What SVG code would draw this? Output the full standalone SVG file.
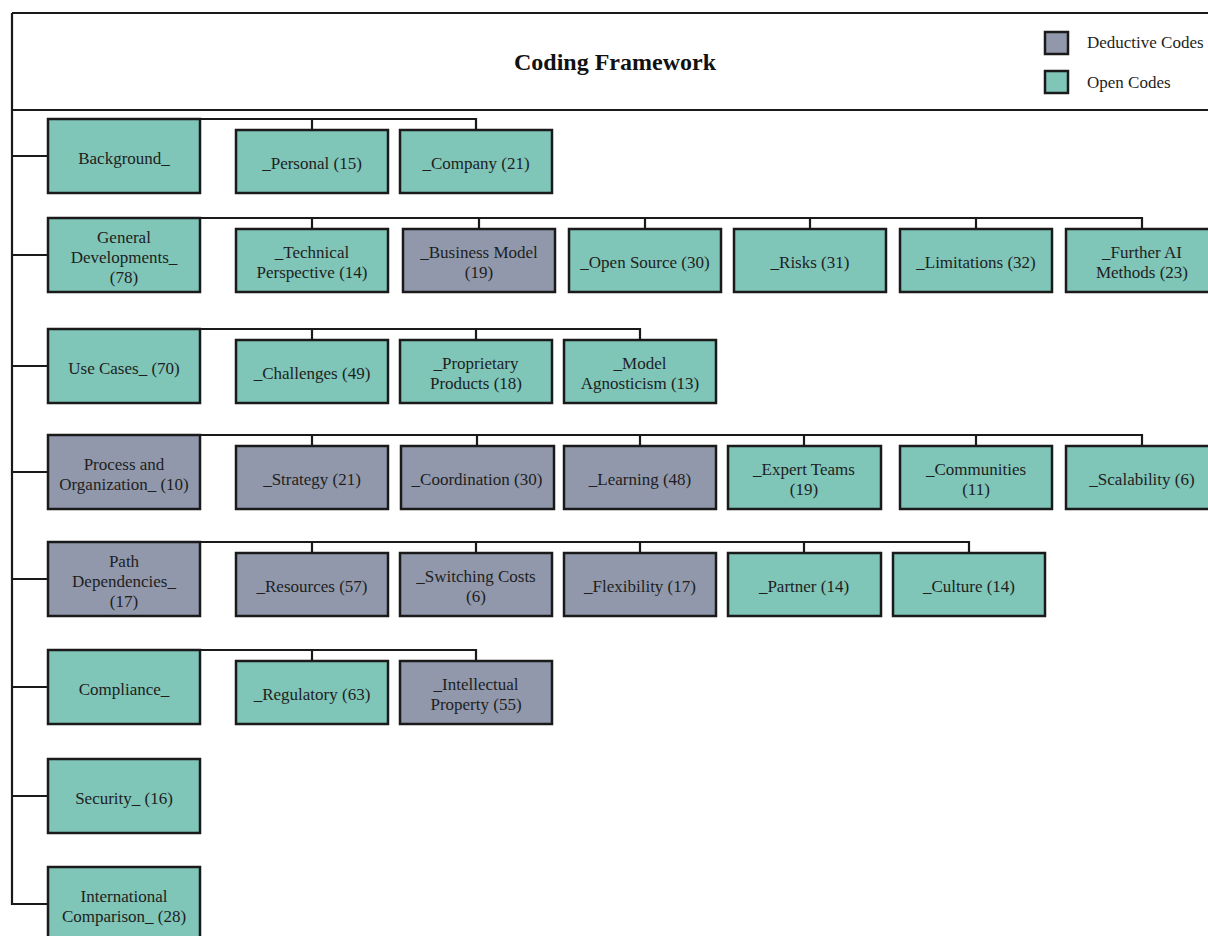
<svg xmlns="http://www.w3.org/2000/svg" width="1208" height="936" viewBox="0 0 1208 936">
<style>
.open{fill:#7fc5b8;stroke:#1a1a1a;stroke-width:2.5}
.ded{fill:#9198ab;stroke:#1a1a1a;stroke-width:2.5}
.t{font-family:"Liberation Serif","Times New Roman",serif;font-size:17px;text-anchor:middle;fill:#1e1e1e}
.lg{font-family:"Liberation Serif","Times New Roman",serif;font-size:17px;fill:#1e1e1e}
.ln{fill:none;stroke:#1a1a1a;stroke-width:2.2}
</style>
<rect width="1208" height="936" fill="#ffffff"/>
<g id="header">
<path class="ln" d="M12 13H1208M12 110H1208"/>
<text x="615" y="70" style="font-family:'Liberation Serif','Times New Roman',serif;font-size:24px;font-weight:bold;text-anchor:middle;fill:#111">Coding Framework</text>
</g>
<g id="legend">
<rect class="ded" x="1045" y="32" width="23" height="22"/>
<text class="lg" x="1087" y="48">Deductive Codes</text>
<rect class="open" x="1045" y="71" width="23" height="22"/>
<text class="lg" x="1087" y="88">Open Codes</text>
</g>
<g id="connectors">
<path class="ln" d="M12 13V904H48M12 156H48M12 255H48M12 366H48M12 472H48M12 579H48M12 687H48M12 796H48"/>
<path class="ln" d="M200 119H476V130M312 119V130"/>
<path class="ln" d="M200 218H1142V229M312 218V229M479 218V229M645 218V229M810 218V229M976 218V229"/>
<path class="ln" d="M200 329H640V340M312 329V340M476 329V340"/>
<path class="ln" d="M200 435H1142V446M312 435V446M477 435V446M640 435V446M804 435V446M976 435V446"/>
<path class="ln" d="M200 542H969V553M312 542V553M476 542V553M640 542V553M804 542V553"/>
<path class="ln" d="M200 650H476V661M312 650V661"/>
</g>
<g id="n-background"><rect class="open" x="48" y="119" width="152" height="74"/><text class="t" x="124" y="163.5">Background_</text></g>
<g id="n-personal"><rect class="open" x="236" y="130" width="152" height="63"/><text class="t" x="312" y="169">_Personal (15)</text></g>
<g id="n-company"><rect class="open" x="400" y="130" width="152" height="63"/><text class="t" x="476" y="169">_Company (21)</text></g>

<g id="n-general"><rect class="open" x="48" y="218" width="152" height="74"/><text class="t" x="124" y="242.5">General</text><text class="t" x="124" y="262.5">Developments_</text><text class="t" x="124" y="282.5">(78)</text></g>
<g id="n-technical"><rect class="open" x="236" y="229" width="152" height="63"/><text class="t" x="312" y="258">_Technical</text><text class="t" x="312" y="278">Perspective (14)</text></g>
<g id="n-business"><rect class="ded" x="403" y="229" width="152" height="63"/><text class="t" x="479" y="258">_Business Model</text><text class="t" x="479" y="278">(19)</text></g>
<g id="n-opensource"><rect class="open" x="569" y="229" width="152" height="63"/><text class="t" x="645" y="268">_Open Source (30)</text></g>
<g id="n-risks"><rect class="open" x="734" y="229" width="152" height="63"/><text class="t" x="810" y="268">_Risks (31)</text></g>
<g id="n-limitations"><rect class="open" x="900" y="229" width="152" height="63"/><text class="t" x="976" y="268">_Limitations (32)</text></g>
<g id="n-furtherai"><rect class="open" x="1066" y="229" width="152" height="63"/><text class="t" x="1142" y="258">_Further AI</text><text class="t" x="1142" y="278">Methods (23)</text></g>

<g id="n-usecases"><rect class="open" x="48" y="329" width="152" height="74"/><text class="t" x="124" y="373.5">Use Cases_ (70)</text></g>
<g id="n-challenges"><rect class="open" x="236" y="340" width="152" height="63"/><text class="t" x="312" y="379">_Challenges (49)</text></g>
<g id="n-proprietary"><rect class="open" x="400" y="340" width="152" height="63"/><text class="t" x="476" y="369">_Proprietary</text><text class="t" x="476" y="389">Products (18)</text></g>
<g id="n-agnosticism"><rect class="open" x="564" y="340" width="152" height="63"/><text class="t" x="640" y="369">_Model</text><text class="t" x="640" y="389">Agnosticism (13)</text></g>

<g id="n-process"><rect class="ded" x="48" y="435" width="152" height="74"/><text class="t" x="124" y="469.5">Process and</text><text class="t" x="124" y="489.5">Organization_ (10)</text></g>
<g id="n-strategy"><rect class="ded" x="236" y="446" width="152" height="63"/><text class="t" x="312" y="485">_Strategy (21)</text></g>
<g id="n-coordination"><rect class="ded" x="401" y="446" width="153" height="63"/><text class="t" x="477" y="485">_Coordination (30)</text></g>
<g id="n-learning"><rect class="ded" x="564" y="446" width="152" height="63"/><text class="t" x="640" y="485">_Learning (48)</text></g>
<g id="n-expert"><rect class="open" x="728" y="446" width="153" height="63"/><text class="t" x="804" y="475">_Expert Teams</text><text class="t" x="804" y="495">(19)</text></g>
<g id="n-communities"><rect class="open" x="900" y="446" width="152" height="63"/><text class="t" x="976" y="475">_Communities</text><text class="t" x="976" y="495">(11)</text></g>
<g id="n-scalability"><rect class="open" x="1066" y="446" width="152" height="63"/><text class="t" x="1142" y="485">_Scalability (6)</text></g>

<g id="n-path"><rect class="ded" x="48" y="542" width="152" height="74"/><text class="t" x="124" y="566.5">Path</text><text class="t" x="124" y="586.5">Dependencies_</text><text class="t" x="124" y="606.5">(17)</text></g>
<g id="n-resources"><rect class="ded" x="236" y="553" width="152" height="63"/><text class="t" x="312" y="592">_Resources (57)</text></g>
<g id="n-switching"><rect class="ded" x="400" y="553" width="152" height="63"/><text class="t" x="476" y="582">_Switching Costs</text><text class="t" x="476" y="602">(6)</text></g>
<g id="n-flexibility"><rect class="ded" x="564" y="553" width="152" height="63"/><text class="t" x="640" y="592">_Flexibility (17)</text></g>
<g id="n-partner"><rect class="open" x="728" y="553" width="153" height="63"/><text class="t" x="804" y="592">_Partner (14)</text></g>
<g id="n-culture"><rect class="open" x="893" y="553" width="152" height="63"/><text class="t" x="969" y="592">_Culture (14)</text></g>

<g id="n-compliance"><rect class="open" x="48" y="650" width="152" height="74"/><text class="t" x="124" y="694.5">Compliance_</text></g>
<g id="n-regulatory"><rect class="open" x="236" y="661" width="152" height="63"/><text class="t" x="312" y="700">_Regulatory (63)</text></g>
<g id="n-intellectual"><rect class="ded" x="400" y="661" width="152" height="63"/><text class="t" x="476" y="690">_Intellectual</text><text class="t" x="476" y="710">Property (55)</text></g>

<g id="n-security"><rect class="open" x="48" y="759" width="152" height="74"/><text class="t" x="124" y="803.5">Security_ (16)</text></g>
<g id="n-international"><rect class="open" x="48" y="867" width="152" height="74"/><text class="t" x="124" y="901.5">International</text><text class="t" x="124" y="921.5">Comparison_ (28)</text></g>
</svg>
